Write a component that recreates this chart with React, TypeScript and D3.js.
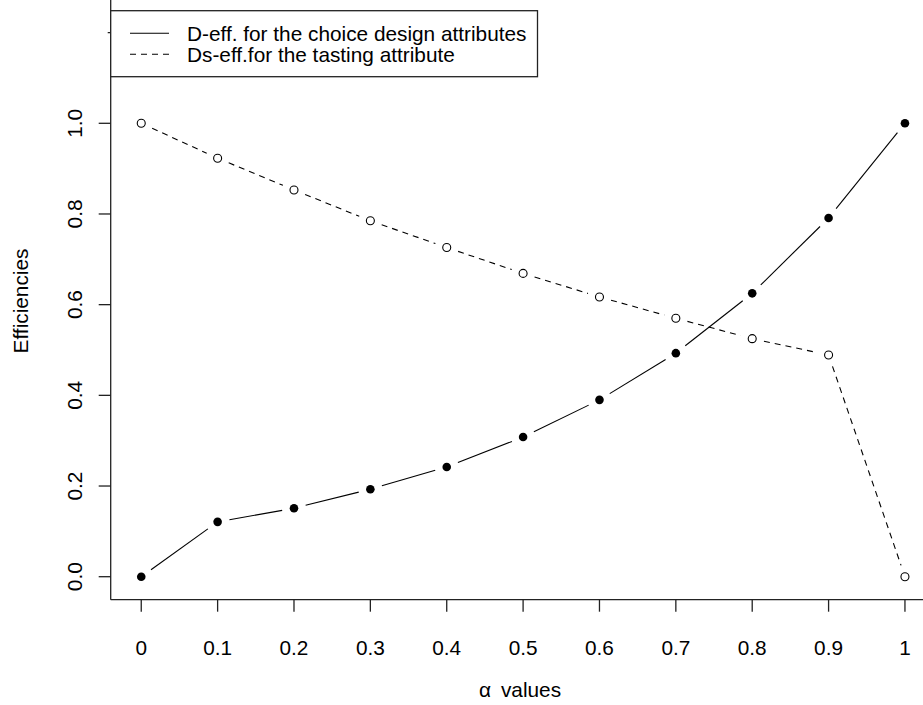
import React from "react";
import * as d3 from "d3";

// alpha grid and the two efficiency curves
const alphas = [0, 0.1, 0.2, 0.3, 0.4, 0.5, 0.6, 0.7, 0.8, 0.9, 1.0];
const alphaLabels = ["0", "0.1", "0.2", "0.3", "0.4", "0.5", "0.6", "0.7", "0.8", "0.9", "1"];
const dEff = [0, 0.121, 0.151, 0.193, 0.242, 0.308, 0.39, 0.493, 0.625, 0.791, 1.0];
const dsEff = [1.0, 0.923, 0.853, 0.785, 0.726, 0.669, 0.617, 0.57, 0.525, 0.489, 0];
const yTicks = [0, 0.2, 0.4, 0.6, 0.8, 1.0];
const yTickLabels = ["0.0", "0.2", "0.4", "0.6", "0.8", "1.0"];
const legendLabels = [
  "D-eff. for the choice design attributes",
  "Ds-eff.for the tasting attribute",
];

const W = 923;
const H = 705;
const FONT = "'Liberation Sans', Arial, Helvetica, sans-serif";
const FS = 20.8;

const x = d3.scaleLinear().domain([-0.04, 1.04]).range([110.7, 935.5]);
const y = d3.scaleLinear().domain([0, 1]).range([576.7, 123.3]);
const plotLeft = x(-0.04);
const plotBottom = y(-0.0507);

// R-style type="b": segments between points, trimmed around each symbol
function gappedSegments(xs: number[], ys: number[], gap: number) {
  const segs: [number, number, number, number][] = [];
  for (let i = 0; i < xs.length - 1; i++) {
    const x0 = x(xs[i]), y0 = y(ys[i]), x1 = x(xs[i + 1]), y1 = y(ys[i + 1]);
    const len = Math.hypot(x1 - x0, y1 - y0);
    if (len <= 2 * gap) continue;
    const ux = (x1 - x0) / len, uy = (y1 - y0) / len;
    segs.push([x0 + ux * gap, y0 + uy * gap, x1 - ux * gap, y1 - uy * gap]);
  }
  return segs;
}

export default function App() {
  const solid = gappedSegments(alphas, dEff, 12);
  const dashed = gappedSegments(alphas, dsEff, 12);
  const tickLen = 12;
  const yTop = y(1.2);

  return (
    <svg
      width={W}
      height={H}
      style={{ position: "absolute", left: 0, top: 0, background: "#fff" }}
      fontFamily={FONT}
    >
      <rect x={0} y={0} width={W} height={H} fill="#fff" />

      {/* plot frame (left and bottom visible) */}
      <line x1={plotLeft} y1={0} x2={plotLeft} y2={plotBottom} stroke="#222" strokeWidth={1.3} />
      <line x1={plotLeft} y1={plotBottom} x2={W} y2={plotBottom} stroke="#222" strokeWidth={1.3} />

      {/* x axis */}
      {alphas.map((a, i) => (
        <g key={"xt" + i}>
          <line x1={x(a)} y1={plotBottom} x2={x(a)} y2={plotBottom + tickLen} stroke="#222" strokeWidth={1.3} />
          <text x={x(a)} y={655} textAnchor="middle" fontSize={FS} fill="#000">
            {alphaLabels[i]}
          </text>
        </g>
      ))}

      {/* y axis */}
      {yTicks.map((v, i) => (
        <g key={"yt" + i}>
          <line x1={plotLeft - tickLen} y1={y(v)} x2={plotLeft} y2={y(v)} stroke="#222" strokeWidth={1.3} />
          <text
            transform={`translate(82,${y(v)}) rotate(-90)`}
            textAnchor="middle"
            fontSize={FS}
            fill="#000"
          >
            {yTickLabels[i]}
          </text>
        </g>
      ))}
      <line x1={plotLeft - 3} y1={yTop} x2={plotLeft} y2={yTop} stroke="#222" strokeWidth={1.3} />

      {/* axis titles */}
      <text transform={`translate(28,301) rotate(-90)`} textAnchor="middle" fontSize={FS} fill="#000">
        Efficiencies
      </text>
      <text x={520} y={697} textAnchor="middle" fontSize={FS} fill="#000">
        <tspan>α</tspan>
        <tspan dx={10}>values</tspan>
      </text>

      {/* D-eff curve */}
      {solid.map((s, i) => (
        <line key={"s" + i} x1={s[0]} y1={s[1]} x2={s[2]} y2={s[3]} stroke="#000" strokeWidth={1.1} />
      ))}
      {alphas.map((a, i) => (
        <circle key={"sp" + i} cx={x(a)} cy={y(dEff[i])} r={4.3} fill="#000" />
      ))}

      {/* Ds-eff curve */}
      {dashed.map((s, i) => (
        <line
          key={"d" + i}
          x1={s[0]}
          y1={s[1]}
          x2={s[2]}
          y2={s[3]}
          stroke="#000"
          strokeWidth={1.1}
          strokeDasharray="6,5"
        />
      ))}
      {alphas.map((a, i) => (
        <circle key={"dp" + i} cx={x(a)} cy={y(dsEff[i])} r={4} fill="#fff" stroke="#000" strokeWidth={1.1} />
      ))}

      {/* legend */}
      <rect x={plotLeft} y={10.7} width={537.5 - plotLeft} height={66} fill="#fff" stroke="#222" strokeWidth={1.3} />
      <line x1={130} y1={33.3} x2={169} y2={33.3} stroke="#000" strokeWidth={1.1} />
      <line x1={130} y1={54.3} x2={169} y2={54.3} stroke="#000" strokeWidth={1.1} strokeDasharray="6,5" />
      <text x={187} y={40.5} fontSize={FS} fill="#000">
        {legendLabels[0]}
      </text>
      <text x={187} y={61.5} fontSize={FS} fill="#000">
        {legendLabels[1]}
      </text>
    </svg>
  );
}
